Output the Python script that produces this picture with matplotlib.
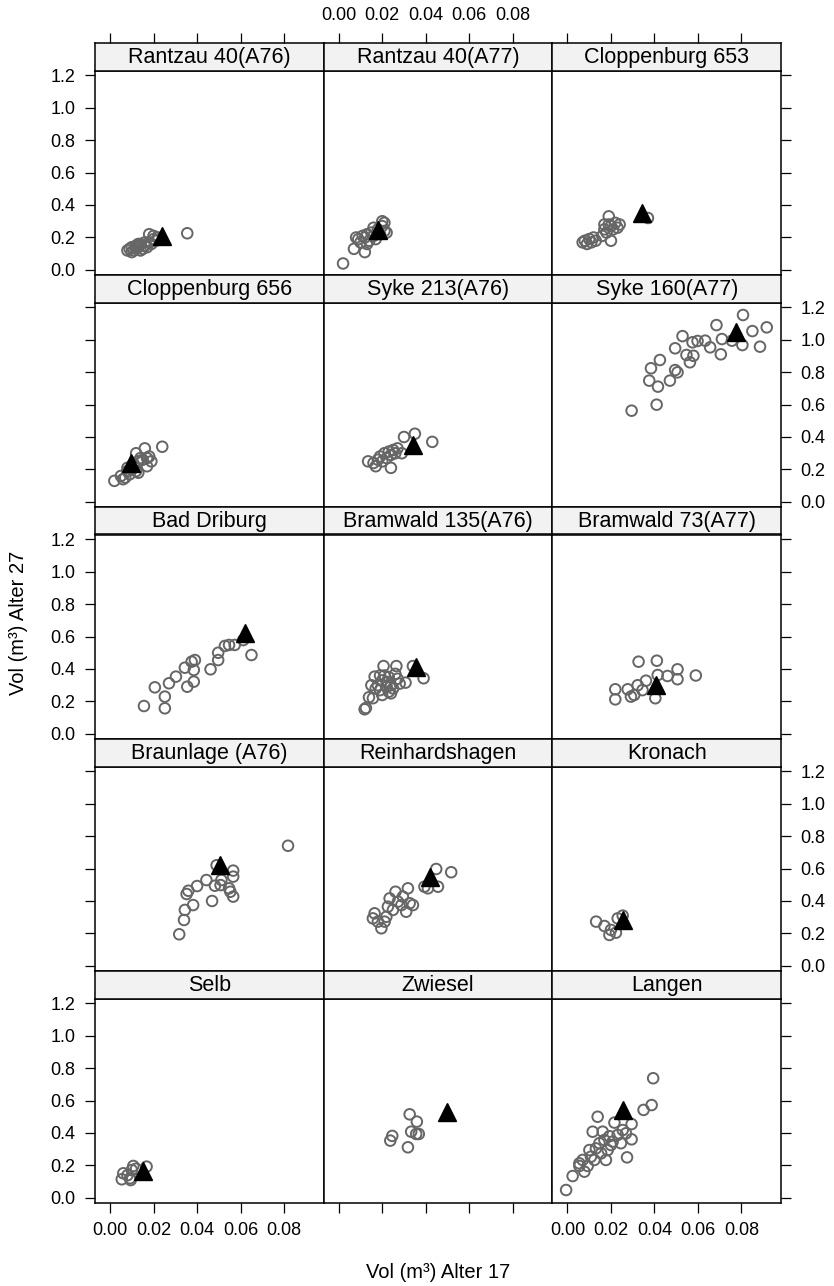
import matplotlib
matplotlib.use("Agg")
import matplotlib.pyplot as plt
import numpy as np

plt.rcParams["font.family"] = ["Liberation Sans", "DejaVu Sans"]

# --- data: volume at age 17 (x) vs volume at age 27 (y), per site ---
rantzau76_x = [0.008, 0.009, 0.010, 0.010, 0.011, 0.012, 0.012, 0.013, 0.014, 0.014, 0.015, 0.016,
               0.017, 0.018, 0.018, 0.019, 0.020, 0.021, 0.022, 0.020, 0.016, 0.013, 0.0355]
rantzau76_y = [0.12, 0.13, 0.11, 0.14, 0.12, 0.15, 0.13, 0.14, 0.12, 0.16, 0.13, 0.15,
               0.14, 0.22, 0.17, 0.16, 0.19, 0.18, 0.20, 0.21, 0.17, 0.16, 0.226]

rantzau77_x = [0.002, 0.007, 0.012, 0.009, 0.010, 0.011, 0.012, 0.013, 0.014, 0.015, 0.016,
               0.017, 0.018, 0.019, 0.020, 0.020, 0.021, 0.021, 0.022, 0.016, 0.013, 0.008]
rantzau77_y = [0.04, 0.13, 0.11, 0.19, 0.17, 0.21, 0.20, 0.22, 0.18, 0.23, 0.21,
               0.19, 0.25, 0.22, 0.27, 0.30, 0.29, 0.24, 0.23, 0.26, 0.16, 0.20]

clop653_x = [0.007, 0.008, 0.009, 0.010, 0.011, 0.012, 0.013, 0.016, 0.017, 0.018,
             0.019, 0.019, 0.020, 0.021, 0.022, 0.023, 0.024, 0.020, 0.017, 0.037]
clop653_y = [0.17, 0.18, 0.16, 0.19, 0.17, 0.20, 0.18, 0.21, 0.25, 0.23,
             0.28, 0.33, 0.27, 0.25, 0.29, 0.26, 0.28, 0.18, 0.28, 0.32]

clop656_x = [0.002, 0.006, 0.005, 0.007, 0.008, 0.008, 0.009, 0.010, 0.011, 0.012, 0.013,
             0.013, 0.012, 0.014, 0.015, 0.016, 0.017, 0.017, 0.018, 0.019, 0.024, 0.011]
clop656_y = [0.13, 0.14, 0.16, 0.15, 0.19, 0.21, 0.17, 0.20, 0.22, 0.19, 0.18,
             0.25, 0.30, 0.27, 0.26, 0.33, 0.27, 0.22, 0.28, 0.25, 0.34, 0.23]

syke213_x = [0.0135, 0.016, 0.017, 0.018, 0.019, 0.020, 0.021, 0.022, 0.023, 0.024,
             0.024, 0.025, 0.026, 0.027, 0.029, 0.030, 0.035, 0.043]
syke213_y = [0.25, 0.24, 0.22, 0.26, 0.28, 0.25, 0.30, 0.27, 0.31, 0.29,
             0.21, 0.32, 0.30, 0.33, 0.30, 0.40, 0.42, 0.37]

syke160_x = [0.0295, 0.041, 0.0376, 0.0416, 0.0384, 0.0425, 0.0471, 0.0495, 0.0506, 0.0495,
             0.0529, 0.0547, 0.0563, 0.0579, 0.0575, 0.0598, 0.0633, 0.0656, 0.0685, 0.0705,
             0.071, 0.0756, 0.0804, 0.0807, 0.085, 0.0885, 0.0916]
syke160_y = [0.562, 0.599, 0.747, 0.710, 0.823, 0.874, 0.747, 0.812, 0.798, 0.946,
             1.021, 0.905, 0.860, 0.900, 0.983, 0.991, 0.993, 0.952, 1.089, 0.909,
             1.003, 0.993, 0.966, 1.151, 1.052, 0.956, 1.075]

driburg_x = [0.0156, 0.0252, 0.0252, 0.0206, 0.0271, 0.0303, 0.0355, 0.0385, 0.0344, 0.0385,
             0.0375, 0.039, 0.0462, 0.0497, 0.0497, 0.0528, 0.0547, 0.0573, 0.0612, 0.065]
driburg_y = [0.172, 0.158, 0.23, 0.287, 0.312, 0.353, 0.291, 0.322, 0.408, 0.394,
             0.445, 0.455, 0.398, 0.455, 0.50, 0.542, 0.548, 0.548, 0.578, 0.486]

bram135_x = [0.0119, 0.0125, 0.0139, 0.0157, 0.015, 0.0165, 0.0206, 0.0265, 0.0307, 0.039, 0.0341,
             0.018, 0.019, 0.020, 0.020, 0.021, 0.022, 0.022, 0.023, 0.023, 0.024, 0.025,
             0.026, 0.027, 0.028, 0.019, 0.017, 0.024]
bram135_y = [0.152, 0.16, 0.226, 0.22, 0.30, 0.353, 0.418, 0.418, 0.316, 0.343, 0.418,
             0.30, 0.27, 0.33, 0.24, 0.36, 0.29, 0.32, 0.26, 0.35, 0.30, 0.28,
             0.37, 0.34, 0.31, 0.36, 0.28, 0.25]

bram73_x = [0.022, 0.022, 0.0277, 0.0292, 0.0307, 0.0323, 0.0345, 0.0361,
            0.0327, 0.0411, 0.0404, 0.0415, 0.046, 0.0506, 0.0506, 0.059]
bram73_y = [0.275, 0.213, 0.275, 0.23, 0.24, 0.30, 0.27, 0.328,
            0.445, 0.451, 0.22, 0.363, 0.357, 0.398, 0.337, 0.36]

braunlage_x = [0.0318, 0.034, 0.0344, 0.0382, 0.0352, 0.036, 0.040, 0.0443, 0.0469, 0.0482,
               0.049, 0.0508, 0.0512, 0.0547, 0.0553, 0.0566, 0.0566, 0.0566, 0.0818]
braunlage_y = [0.195, 0.283, 0.345, 0.375, 0.443, 0.463, 0.492, 0.529, 0.40, 0.494,
               0.62, 0.498, 0.529, 0.478, 0.457, 0.427, 0.587, 0.55, 0.74]

reinh_x = [0.0157, 0.0165, 0.0196, 0.0211, 0.0219, 0.018, 0.0226, 0.0234, 0.0261, 0.0272, 0.0249,
           0.0295, 0.0318, 0.0326, 0.031, 0.0341, 0.0288, 0.0394, 0.041, 0.0456, 0.0448, 0.0517]
reinh_y = [0.293, 0.324, 0.232, 0.273, 0.303, 0.273, 0.365, 0.416, 0.457, 0.396, 0.345,
           0.427, 0.478, 0.386, 0.334, 0.375, 0.375, 0.488, 0.478, 0.488, 0.597, 0.577]

kronach_x = [0.0132, 0.017, 0.0193, 0.0223, 0.0231, 0.020, 0.0254]
kronach_y = [0.273, 0.246, 0.191, 0.205, 0.293, 0.222, 0.31]

selb_x = [0.0054, 0.0061, 0.0092, 0.010, 0.0107, 0.0095, 0.0168, 0.012, 0.008]
selb_y = [0.115, 0.152, 0.121, 0.172, 0.197, 0.11, 0.193, 0.18, 0.14]

zwiesel_x = [0.0237, 0.0246, 0.0326, 0.0359, 0.0333, 0.0356, 0.0368, 0.0318]
zwiesel_y = [0.353, 0.382, 0.515, 0.47, 0.408, 0.394, 0.394, 0.312]

langen_x = [-0.0006, 0.0024, 0.0055, 0.0078, 0.0093, 0.0101, 0.0124, 0.0116, 0.0139, 0.0147, 0.0162,
            0.017, 0.0177, 0.0185, 0.0193, 0.020, 0.0208, 0.0216, 0.0231, 0.0246, 0.0254, 0.0269,
            0.0274, 0.0295, 0.0295, 0.035, 0.0387, 0.0394, 0.0055, 0.007, 0.0108, 0.0131, 0.0155]
langen_y = [0.049, 0.135, 0.213, 0.162, 0.197, 0.295, 0.234, 0.408, 0.50, 0.337, 0.408,
            0.357, 0.234, 0.295, 0.38, 0.326, 0.347, 0.464, 0.388, 0.337, 0.418, 0.398,
            0.25, 0.361, 0.455, 0.542, 0.572, 0.737, 0.197, 0.234, 0.254, 0.305, 0.275]

site_names = ["Rantzau 40(A76)", "Rantzau 40(A77)", "Cloppenburg 653",
              "Cloppenburg 656", "Syke 213(A76)", "Syke 160(A77)",
              "Bad Driburg", "Bramwald 135(A76)", "Bramwald 73(A77)",
              "Braunlage (A76)", "Reinhardshagen", "Kronach",
              "Selb", "Zwiesel", "Langen"]
site_x = [rantzau76_x, rantzau77_x, clop653_x, clop656_x, syke213_x, syke160_x,
          driburg_x, bram135_x, bram73_x, braunlage_x, reinh_x, kronach_x,
          selb_x, zwiesel_x, langen_x]
site_y = [rantzau76_y, rantzau77_y, clop653_y, clop656_y, syke213_y, syke160_y,
          driburg_y, bram135_y, bram73_y, braunlage_y, reinh_y, kronach_y,
          selb_y, zwiesel_y, langen_y]
# triangle = site mean
mean_x = [0.0237, 0.018, 0.0345, 0.0096, 0.034, 0.0777, 0.0619, 0.0353, 0.0407,
          0.0505, 0.042, 0.0254, 0.015, 0.0497, 0.0254]
mean_y = [0.209, 0.246, 0.349, 0.242, 0.351, 1.048, 0.62, 0.41, 0.30,
          0.62, 0.55, 0.283, 0.168, 0.527, 0.542]

x_ticks = [0.00, 0.02, 0.04, 0.06, 0.08]
y_ticks = [0.0, 0.2, 0.4, 0.6, 0.8, 1.0, 1.2]

W, H = 834, 1286
fig = plt.figure(figsize=(W / 100, H / 100), dpi=100)

left, colw = 95, 228.7
top0, rowh, striph = 43, 232, 27.5
xlim = (-0.0069, 0.0982)
ylim = (-0.031, 1.228)
tick_kw = dict(length=7, width=0.9, labelsize=13, pad=7, color="black")
frame_lw = 1.1

for i, name in enumerate(site_names):
    r, c = divmod(i, 3)
    x0 = left + c * colw
    ytop = top0 + r * rowh
    # panel area
    ax = fig.add_axes([x0 / W, 1 - (ytop + rowh) / H, colw / W, (rowh - striph) / H])
    ax.scatter(site_x[i], site_y[i], s=58, facecolors="none", edgecolors="#666666", linewidths=1.4, zorder=2)
    ax.plot(mean_x[i], mean_y[i], marker="^", color="black", markersize=13, linestyle="none", zorder=3)
    ax.set_xlim(*xlim)
    ax.set_ylim(*ylim)
    for sp in ax.spines.values():
        sp.set_linewidth(frame_lw)
    ax.set_xticks(x_ticks)
    ax.set_yticks(y_ticks)
    ax.tick_params(axis="both", direction="out", **tick_kw)
    ax.tick_params(axis="x", bottom=(r == 4), top=False, labelbottom=(r == 4 and c != 1), labeltop=False)
    ax.tick_params(axis="y", left=(c == 0), right=(c == 2),
                   labelleft=(c == 0 and r % 2 == 0), labelright=(c == 2 and r % 2 == 1))
    ax.xaxis.set_major_formatter(matplotlib.ticker.FormatStrFormatter("%.2f"))
    ax.yaxis.set_major_formatter(matplotlib.ticker.FormatStrFormatter("%.1f"))

    # strip
    sax = fig.add_axes([x0 / W, 1 - (ytop + striph) / H, colw / W, striph / H])
    sax.set_facecolor("#f2f2f2")
    sax.set_xlim(*xlim)
    sax.set_yticks([])
    for sp in sax.spines.values():
        sp.set_linewidth(frame_lw)
    sax.text(0.5, 0.47, name, transform=sax.transAxes, ha="center", va="center", fontsize=15.5)
    if r == 0:
        sax.set_xticks(x_ticks)
        sax.xaxis.set_major_formatter(matplotlib.ticker.FormatStrFormatter("%.2f"))
        sax.tick_params(axis="x", direction="out", bottom=False, labelbottom=False,
                        top=True, labeltop=(c == 1), **tick_kw)
    else:
        sax.set_xticks([])

fig.text((left + 1.5 * colw) / W, 1 - 1272 / H, "Vol (m³) Alter 17", ha="center", va="center", fontsize=14.5)
fig.text(19 / W, 1 - (top0 + 2.5 * rowh) / H, "Vol (m³) Alter 27", ha="center", va="center",
         rotation=90, fontsize=14.5)

fig.savefig("out.png", dpi=100)
